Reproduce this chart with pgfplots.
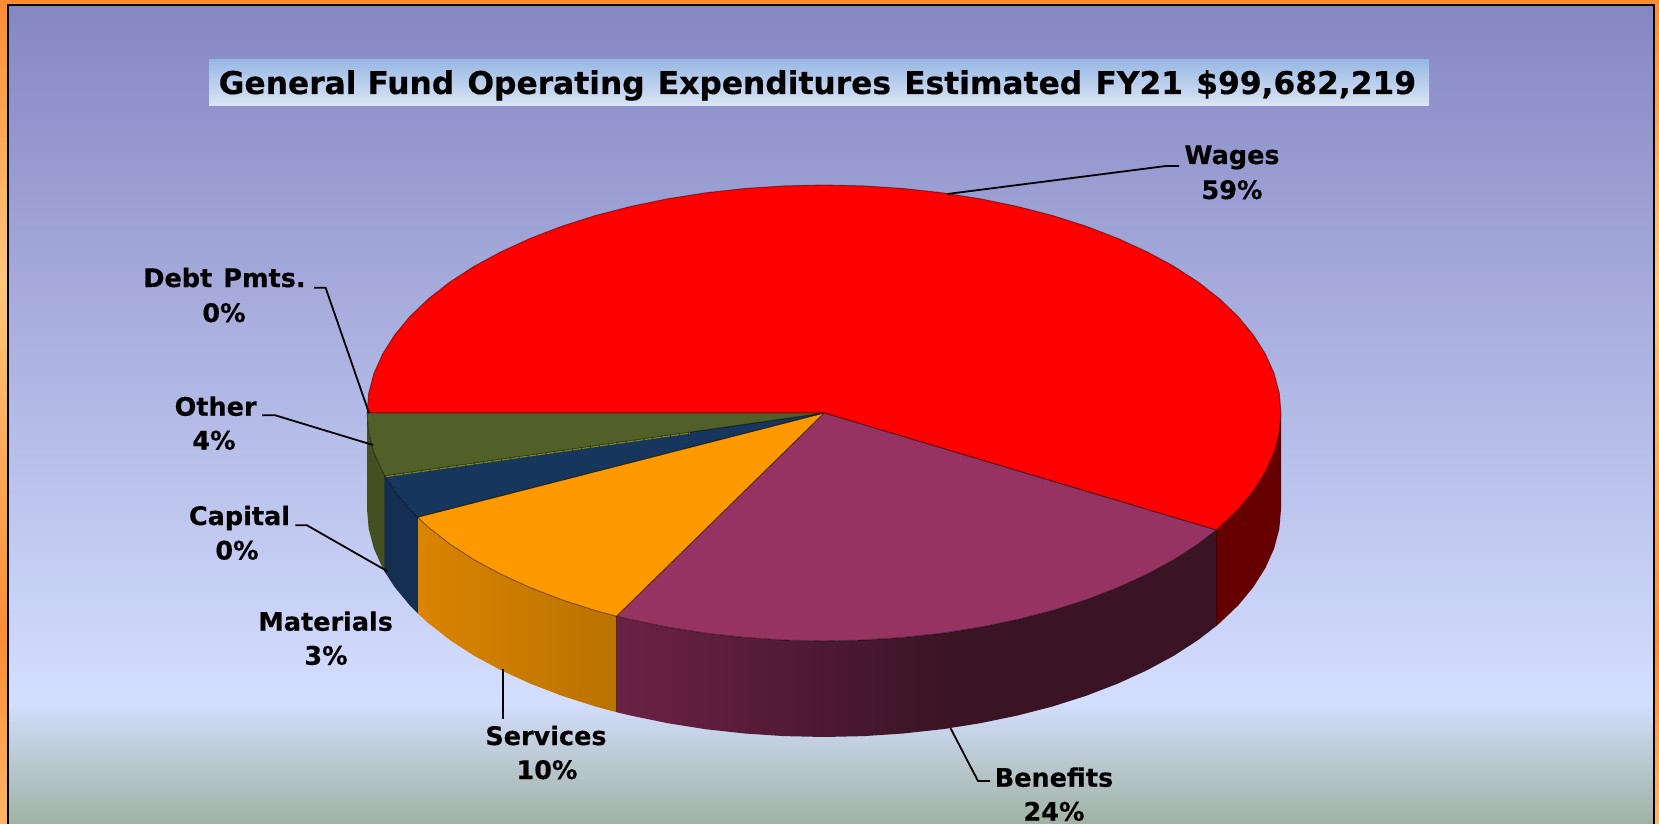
\documentclass[border=0pt]{standalone}
\usepackage{pgfplots}
\pgfplotsset{compat=1.18}
\usepackage{fontspec}
\setmainfont{DejaVu Sans}[BoldFeatures={FakeBold=0.4}]
\definecolor{bgA}{RGB}{133,135,195}
\definecolor{bgB}{RGB}{212,222,255}
\definecolor{bgC}{RGB}{160,178,162}
\definecolor{frame}{RGB}{255,140,50}
\definecolor{frameL}{RGB}{255,200,125}
\tikzset{
  lab/.style={font=\fontsize{25.5}{25.5}\selectfont\bfseries,anchor=base,inner sep=0pt,black},
  lead/.style={draw=black,line width=1.8pt},
  edge/.style={draw=black,draw opacity=.45,line width=.9pt},
}
\begin{document}
\begin{tikzpicture}
\begin{axis}[
  width=1659pt,height=824pt,scale only axis,
  xmin=0,xmax=1659,ymin=0,ymax=824,y dir=reverse,hide axis,
  clip=true,
]
% frame
\addplot[draw=none,top color=frame,bottom color=frameL] coordinates {(0,0)(1659,0)(1659,278)(0,278)(0,0)};
\addplot[draw=none,top color=frameL,bottom color=frame] coordinates {(0,278)(1659,278)(1659,640)(0,640)(0,278)};
\addplot[draw=none,top color=frame,bottom color=frameL!70!frame] coordinates {(0,640)(1659,640)(1659,824)(0,824)(0,640)};
% background
\addplot[draw=none,top color=bgA,bottom color=bgB] coordinates {(8,5)(1654,5)(1654,700)(8,700)(8,5)};
\addplot[draw=none,top color=bgB,bottom color=bgC] coordinates {(8,700)(1654,700)(1654,824)(8,824)(8,700)};
\addplot[draw=black,line width=1.6pt] coordinates {(8,824)(8,5)(1654,5)(1654,824)};
% title box
\addplot[draw=none,top color={rgb,255:red,152;green,184;blue,228},bottom color={rgb,255:red,220;green,229;blue,246}] coordinates {(209,60)(1429,60)(1429,106)(209,106)(209,60)};
\node[font=\fontsize{31.3}{32}\selectfont\bfseries,anchor=base,inner sep=0pt] at (axis cs:817.4,94) {\spaceskip=13.2pt General\hspace{11pt}Fund Operating Expenditures Estimated FY21 \$99,682,219};
% side walls
\addplot[draw=none,fill={rgb,255:red,102;green,0;blue,0}] coordinates {(1281,413)(1279.3,432.9)(1274.1,452.6)(1265.4,472)(1253.4,491)(1238.2,509.4)(1219.8,527)(1216.1,530.1)(1216.1,626.1)(1219.8,623)(1238.2,605.4)(1253.4,587)(1265.4,568)(1274.1,548.6)(1279.3,528.9)(1281,509)(1281,413)};
\addplot[draw=none,fill={rgb,255:red,58;green,20;blue,37}] coordinates {(1216.1,530.1)(1198.4,543.8)(1174.1,559.6)(1147.1,574.2)(1117.8,587.6)(1086.1,599.8)(1052.5,610.5)(1017.1,619.6)(980.3,627.2)(950,632)(950,728)(980.3,723.2)(1017.1,715.6)(1052.5,706.5)(1086.1,695.8)(1117.8,683.6)(1147.1,670.2)(1174.1,655.6)(1198.4,639.8)(1216.1,626.1)(1216.1,530.1)};
\addplot[draw=none,left color={rgb,255:red,108;green,33;blue,70},right color={rgb,255:red,58;green,20;blue,37}] coordinates {(616.5,616.2)(630.9,619.6)(667.7,627.2)(705.7,633.2)(744.7,637.5)(784.1,640.1)(824,641)(863.9,640.1)(903.3,637.5)(942.3,633.2)(951,632)(951,728)(942.3,729.2)(903.3,733.5)(863.9,736.1)(824,737)(784.1,736.1)(744.7,733.5)(705.7,729.2)(667.7,723.2)(630.9,715.6)(616.5,712.2)(616.5,616.2)};
\addplot[draw=none,left color={rgb,255:red,218;green,132;blue,0},right color={rgb,255:red,186;green,114;blue,0}] coordinates {(417.5,517.2)(428.2,527)(449.6,543.8)(473.9,559.6)(500.9,574.2)(530.2,587.6)(561.9,599.8)(595.5,610.5)(616.5,616.2)(616.5,712.2)(595.5,706.5)(561.9,695.8)(530.2,683.6)(500.9,670.2)(473.9,655.6)(449.6,639.8)(428.2,623)(417.5,613.2)(417.5,517.2)};
\addplot[draw=none,fill={rgb,255:red,21;green,47;blue,82}] coordinates {(384.7,475.8)(394.6,491)(409.8,509.4)(417.5,517.2)(417.5,613.2)(409.8,605.4)(394.6,587)(384.7,571.8)(384.7,475.8)};
\addplot[draw=none,fill={rgb,255:red,68;green,80;blue,34}] coordinates {(367,413)(368.7,432.9)(373.9,452.6)(382.6,472)(384.7,475.8)(384.7,571.8)(382.6,568)(373.9,548.6)(368.7,528.9)(367,509)(367,413)};
% top faces
\addplot[edge,fill={rgb,255:red,255;green,0;blue,0}] coordinates {(824,413)(367,413)(368.7,393.1)(373.9,373.4)(382.6,354)(394.6,335)(409.8,316.6)(428.2,299)(449.6,282.2)(473.9,266.4)(500.9,251.8)(530.2,238.4)(561.9,226.2)(595.5,215.5)(630.9,206.4)(667.7,198.8)(705.7,192.8)(744.7,188.5)(784.1,185.9)(824,185)(863.9,185.9)(903.3,188.5)(942.3,192.8)(980.3,198.8)(1017.1,206.4)(1052.5,215.5)(1086.1,226.2)(1117.8,238.4)(1147.1,251.8)(1174.1,266.4)(1198.4,282.2)(1219.8,299)(1238.2,316.6)(1253.4,335)(1265.4,354)(1274.1,373.4)(1279.3,393.1)(1281,413)(1279.3,432.9)(1274.1,452.6)(1265.4,472)(1253.4,491)(1238.2,509.4)(1219.8,527)(1216.1,530.1)(824,413)};
\addplot[edge,fill={rgb,255:red,150;green,51;blue,98}] coordinates {(824,413)(1216.1,530.1)(1198.4,543.8)(1174.1,559.6)(1147.1,574.2)(1117.8,587.6)(1086.1,599.8)(1052.5,610.5)(1017.1,619.6)(980.3,627.2)(942.3,633.2)(903.3,637.5)(863.9,640.1)(824,641)(784.1,640.1)(744.7,637.5)(705.7,633.2)(667.7,627.2)(630.9,619.6)(616.5,616.2)(824,413)};
\addplot[edge,fill={rgb,255:red,255;green,153;blue,0}] coordinates {(824,413)(616.5,616.2)(595.5,610.5)(561.9,599.8)(530.2,587.6)(500.9,574.2)(473.9,559.6)(449.6,543.8)(428.2,527)(417.5,517.2)(824,413)};
\addplot[edge,fill={rgb,255:red,23;green,54;blue,93}] coordinates {(824,413)(417.5,517.2)(409.8,509.4)(394.6,491)(384.7,475.8)(824,413)};
\addplot[edge,fill={rgb,255:red,80;green,96;blue,40}] coordinates {(824,413)(384.7,475.8)(382.6,472)(373.9,452.6)(368.7,432.9)(367,413)(824,413)};
\addplot[draw={rgb,255:red,130;green,135;blue,16},line width=1.2pt,dash pattern=on 8pt off 1pt] coordinates {(386,476.5)(690,433)};
% wall seams
\addplot[edge] coordinates {(1216.1,530.1)(1216.1,626.1)};
\addplot[edge] coordinates {(616.5,616.2)(616.5,712.2)};
\addplot[edge] coordinates {(417.5,517.2)(417.5,613.2)};
\addplot[edge] coordinates {(384.7,475.8)(384.7,571.8)};
% leader lines
\addplot[lead] coordinates {(1179,166)(1166,166)(947.4,194)};
\addplot[lead] coordinates {(314,287.7)(325.6,287.7)(369,413)};
\addplot[lead] coordinates {(262,415.3)(275.3,415.3)(373,445)};
\addplot[lead] coordinates {(295.4,525.3)(307,525.3)(387.5,571.3)};
\addplot[lead] coordinates {(503,669.3)(503,719.3)};
\addplot[lead] coordinates {(950.6,728.3)(978,781)(990,781)};
% labels
\node[lab] at (axis cs:1232,164) {Wages};
\node[lab] at (axis cs:1232,199) {59\%};
\node[lab] at (axis cs:224.5,287) {Debt\hspace{11pt}Pmts.};
\node[lab] at (axis cs:224,322) {0\%};
\node[lab] at (axis cs:215.6,415.7) {Other};
\node[lab] at (axis cs:214,449.5) {4\%};
\node[lab] at (axis cs:239.5,525) {Capital};
\node[lab] at (axis cs:237,559.5) {0\%};
\node[lab] at (axis cs:325.7,630.7) {Materials};
\node[lab] at (axis cs:326,664.7) {3\%};
\node[lab] at (axis cs:546,745) {Services};
\node[lab] at (axis cs:547,779) {10\%};
\node[lab] at (axis cs:1054,786.7) {Benefits};
\node[lab] at (axis cs:1054,820.7) {24\%};
\end{axis}
\end{tikzpicture}
\end{document}
